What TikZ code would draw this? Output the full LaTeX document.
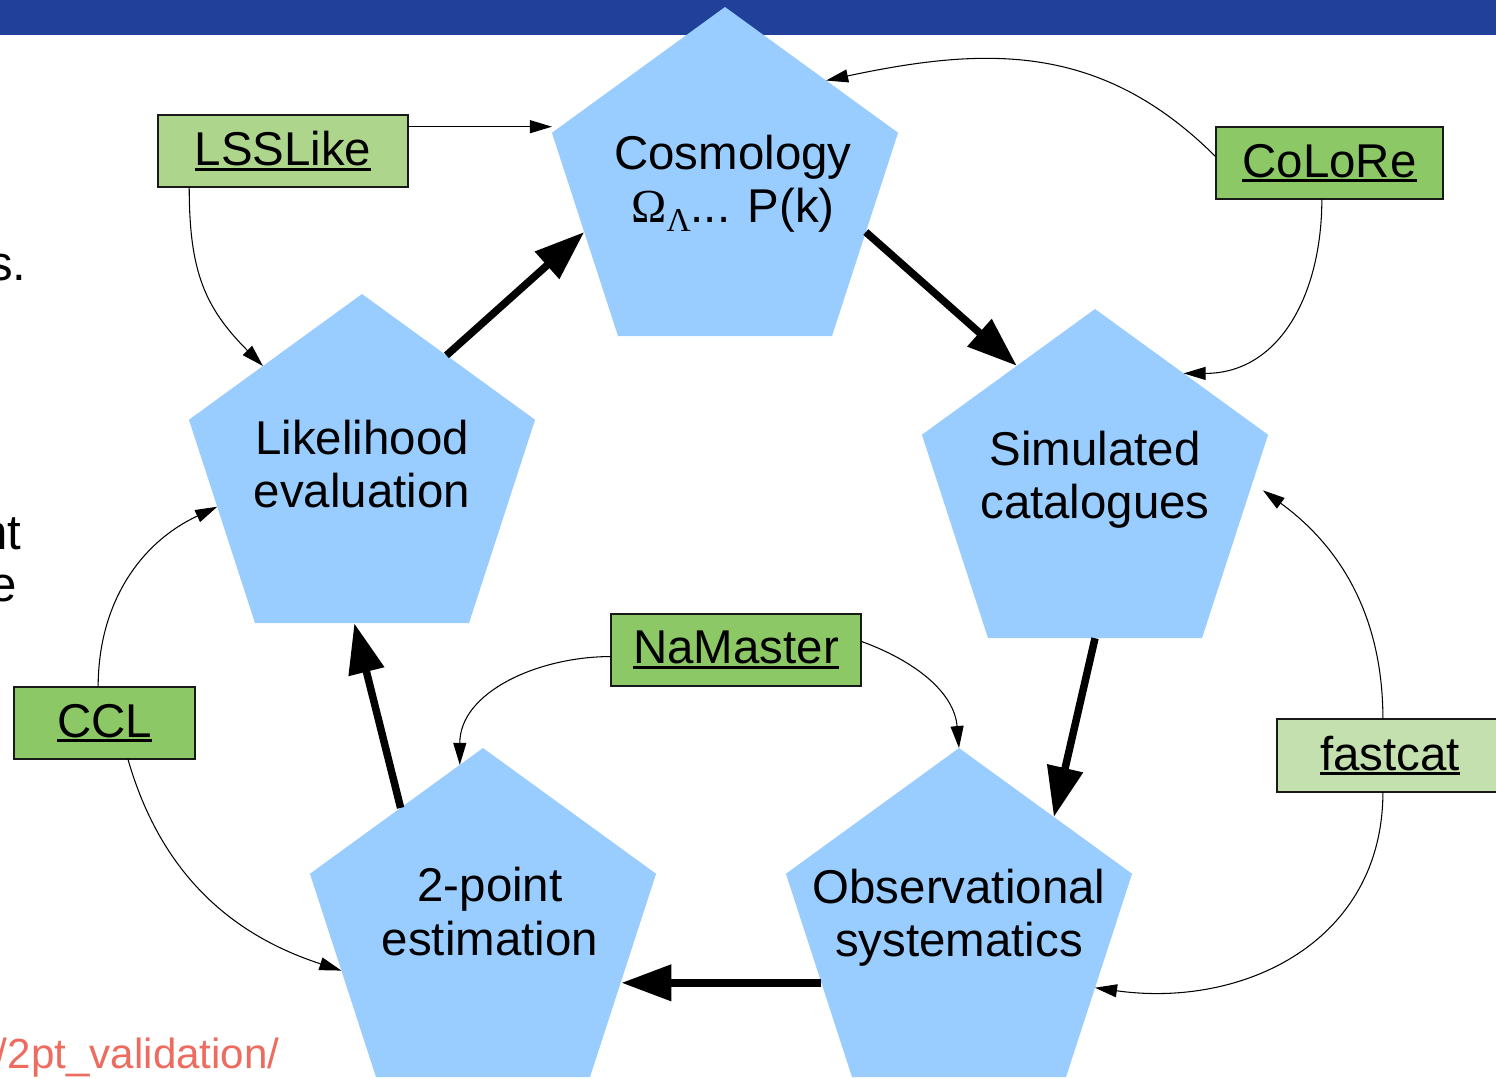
\documentclass[tikz,border=0pt]{standalone}
\usepackage{fontspec}
\setmainfont{Liberation Sans}
\newfontfamily\grk{Liberation Serif}
\usetikzlibrary{shapes.geometric,arrows.meta}
\definecolor{barblue}{HTML}{21409A}
\definecolor{pentblue}{HTML}{99CCFF}
\definecolor{gmid}{HTML}{8CC865}
\definecolor{glight}{HTML}{AED58C}
\definecolor{gpale}{HTML}{C4E0AE}
\definecolor{linkred}{HTML}{EE6B60}
\newcommand\ulin[1]{\setbox0=\hbox{#1}\rlap{\rule[-0.105em]{\wd0}{0.065em}}\box0}
\begin{document}
\begin{tikzpicture}[x=0.02cm,y=0.02cm,
  pent/.style={regular polygon, regular polygon sides=5, minimum size=7.28cm,
    inner sep=0pt, outer sep=0pt, fill=pentblue, draw=none},
  ptxt/.style={align=center, inner sep=0pt, font=\fontsize{27}{30.3}\selectfont},
  tool/.style={rectangle, draw=black!90, line width=0.8pt, minimum height=1.44cm,
    inner sep=0pt, outer sep=0pt, font=\fontsize{27}{30}\selectfont},
  conn/.style={-{Triangle[length=0.44cm,width=0.26cm]}, line width=0.6pt},
  big/.style={-{Triangle[length=1.0cm,width=0.7cm]}, line width=0.15cm},
  frag/.style={inner sep=0pt, font=\fontsize{28}{29}\selectfont},
]
\useasboundingbox (0,0) rectangle (1496,1078);
\fill[barblue] (0,1043) rectangle (1496,1078);

% pentagons
\node[pent, label={[ptxt,yshift=0.1cm,xshift=0.16cm]center:Cosmology\\{\grk Ω}\raisebox{-5pt}{\fontsize{19}{19}\selectfont\grk Λ}... P(k)}] (cos) at (725,889) {};
\node[pent, label={[ptxt,yshift=0.24cm]center:Likelihood\\evaluation}] (lik) at (362,602) {};
\node[pent, label={[ptxt,yshift=0.22cm]center:Simulated\\catalogues}] (sim) at (1095,587) {};
\node[pent, label={[ptxt,yshift=0.24cm]center:Observational\\systematics}] (obs) at (959,148) {};
\node[pent, label={[ptxt,yshift=0.37cm,xshift=0.14cm]center:2-point\\estimation}] (two) at (483,148) {};

% tool boxes
\node[tool, fill=glight, minimum width=5cm] (lss) at (283,927) {\ulin{LSSLike}};
\node[tool, fill=gmid, minimum width=4.54cm] (col) at (1329.5,915) {\ulin{CoLoRe}};
\node[tool, fill=gmid, minimum width=5cm] (nam) at (736,428) {\ulin{NaMaster}};
\node[tool, fill=gmid, minimum width=3.62cm] (ccl) at (104.5,355) {\ulin{CCL}};
\node[tool, fill=gpale, minimum width=4.52cm, minimum height=1.46cm] (fc) at (1390,322.5) {\ulin{fastcat}};

% cut-off slide text
\node[frag, anchor=base east] (f1) at (27,797) {s.};
\node[frag, anchor=base east] (f2) at (22,528) {nt};
\node[frag, anchor=base east] (f3) at (17,476) {e};
\node[inner sep=0pt, anchor=base east, text=linkred, font=\fontsize{24}{26}\selectfont] (url) at (280,10) {/2pt\_validation/};

% main cycle
\draw[big] (lik.55) -- (cos.197);
\draw[big] (cos.-17) -- (sim.122);
\draw[big] (sim.-90) -- (obs.50);
\draw[big] (obs.201) -- (obs.201 -| two.-20);
\draw[big] (two.124) -- (lik.-93);

% tool connectors
\draw[conn] (lss.11) -- (lss.11 -| cos.162);
\draw[conn] (lss.201) to[out=-90,in=135,looseness=1.1] (lik.132);
\draw[conn] (col.177) to[out=135,in=12,looseness=1.05] (cos.47);
\draw[conn] (col.258) to[out=-90,in=0,looseness=1.1] (sim.53);
\draw[conn] (nam.183) to[out=180,in=90] (two.98);
\draw[conn] (nam.4) to[out=-20,in=95] (obs.90);
\draw[conn] (ccl.100) to[out=90,in=205] (lik.192);
\draw[conn] (ccl.-57) to[out=-74,in=162] (two.196);
\draw[conn, shorten >=0.26cm] (fc.101) to[out=90,in=-36] (sim.3);
\draw[conn] (fc.-101) to[out=-90,in=-8,looseness=1.1] (obs.-23);
\end{tikzpicture}
\end{document}
